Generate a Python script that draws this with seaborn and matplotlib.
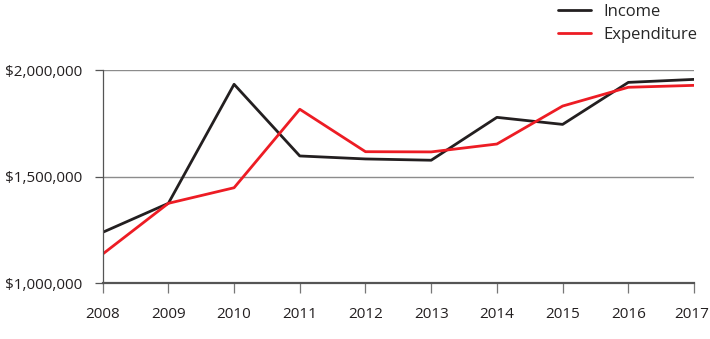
import matplotlib
matplotlib.use("Agg")
import matplotlib.pyplot as plt
import matplotlib.ticker as mticker
import matplotlib.transforms as mtransforms
import pandas as pd
import seaborn as sns

years = [2008, 2009, 2010, 2011, 2012, 2013, 2014, 2015, 2016, 2017]
income = [1239000, 1375000, 1933000, 1597000, 1583000, 1577000, 1778000, 1745000, 1942000, 1956000]
expenditure = [1137000, 1375000, 1448000, 1816000, 1617000, 1616000, 1653000, 1831000, 1919000, 1928000]
series_names = ["Income", "Expenditure"]
y_ticks = [1000000, 1500000, 2000000]

df = pd.DataFrame({
    "Year": years * 2,
    "Amount": income + expenditure,
    "Series": [series_names[0]] * len(years) + [series_names[1]] * len(years),
})

sns.set_theme(style="white")
plt.rcParams["font.family"] = ["Open Sans", "DejaVu Sans"]

fig = plt.figure(figsize=(7.1, 3.39), dpi=100)
ax = fig.add_axes([0.1446, 0.1643, 0.8329, 0.6292])

palette = {"Income": "#231f20", "Expenditure": "#ed1c24"}
sns.lineplot(data=df, x="Year", y="Amount", hue="Series", palette=palette,
             linewidth=2.0, ax=ax, legend=True)

ax.set_xlim(years[0], years[-1])
ax.set_ylim(y_ticks[0], y_ticks[-1])
ax.set_xticks(years)
ax.set_yticks(y_ticks)
ax.yaxis.set_major_formatter(mticker.FuncFormatter(lambda v, p: f"${v:,.0f}"))
ax.set_xlabel("")
ax.set_ylabel("")

for y in y_ticks[1:]:
    ax.axhline(y, color="#8c8c8c", linewidth=1.0, zorder=0)

for side in ["top", "right"]:
    ax.spines[side].set_visible(False)
ax.spines["left"].set_color("#555555")
ax.spines["left"].set_linewidth(0.9)
ax.spines["bottom"].set_color("#555555")
ax.spines["bottom"].set_linewidth(1.6)

ax.tick_params(axis="x", which="major", bottom=True, direction="out", length=7,
               width=0.9, color="#777777", pad=10, labelsize=11, labelcolor="#231f20")
ax.tick_params(axis="y", which="major", left=True, direction="out", length=6,
               width=0.9, color="#555555", pad=8.5, labelsize=11, labelcolor="#231f20")

# keep the last year label inside the figure edge
last_label = ax.get_xticklabels()[-1]
last_label.set_transform(last_label.get_transform()
                         + mtransforms.ScaledTranslation(-2 / 100, 0, fig.dpi_scale_trans))

handles, labels = ax.get_legend_handles_labels()
ax.legend(handles, labels, loc="upper left", bbox_to_anchor=(558 / 710, 1 - 4 / 339),
          bbox_transform=fig.transFigure, frameon=False, fontsize=12,
          handlelength=2.0, handletextpad=0.75, labelspacing=0.4,
          borderaxespad=0.0, borderpad=0.0)

fig.savefig("out.png", dpi=100)
